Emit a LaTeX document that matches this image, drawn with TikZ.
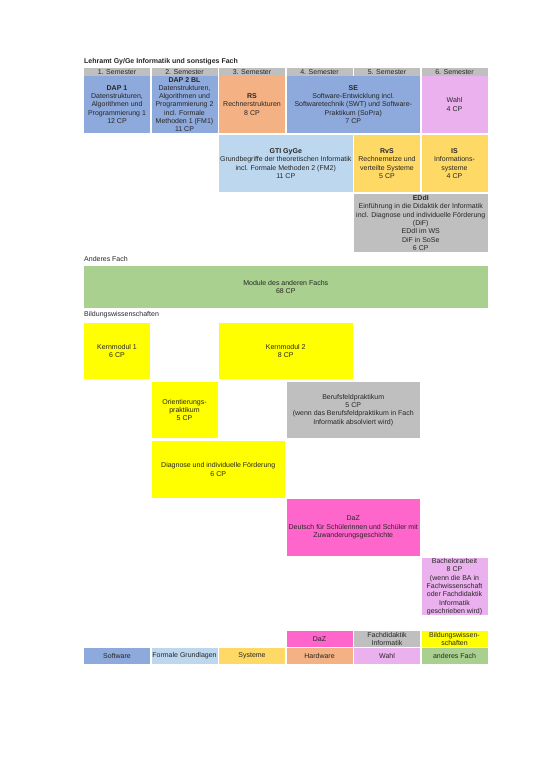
\documentclass[tikz,border=0pt]{standalone}
\usepackage{fontspec}
\setmainfont{Liberation Sans}
\usepackage{xcolor}
\definecolor{hdrgray}{HTML}{BFBFBF}
\definecolor{swblue}{HTML}{8EA9DB}
\definecolor{fgblue}{HTML}{BDD7EE}
\definecolor{sysyellow}{HTML}{FFD966}
\definecolor{hworange}{HTML}{F4B183}
\definecolor{wahllilac}{HTML}{EBB1EE}
\definecolor{fdgray}{HTML}{BFBFBF}
\definecolor{fachgreen}{HTML}{A9D08E}
\definecolor{bwyellow}{HTML}{FFFF00}
\definecolor{dazpink}{HTML}{FF66CC}
\usetikzlibrary{positioning}

\begin{document}
\begin{tikzpicture}[
            x=1pt, y=-1pt,
            cell/.style={rectangle, anchor=north west, inner sep=0.5pt, outer sep=0pt, align=center, text=black!85, font=\fontsize{7}{8.3}\selectfont},
            span/.style={minimum width=#1*67.5pt-1.5pt},
            tall/.style={minimum height=#1},
            hdr/.style={cell, fill=hdrgray, span=1, minimum height=7.5pt},
            sectitle/.style={anchor=west, inner sep=0pt, text=black!85, font=\fontsize{7}{8.3}\selectfont}
        ]
        \useasboundingbox (0,0) rectangle (541,766);

        % Informatik
        \node [sectitle, font=\bfseries\fontsize{7}{8.3}\selectfont] (title) at (84,62) {Lehramt Gy/Ge Informatik und sonstiges Fach};
        \node [hdr] (sem1) at (84,68) {1. Semester};
        \node [hdr] (sem2) at (151.5,68) {2. Semester};
        \node [hdr] (sem3) at (219,68) {3. Semester};
        \node [hdr] (sem4) at (286.5,68) {4. Semester};
        \node [hdr] (sem5) at (354,68) {5. Semester};
        \node [hdr] (sem6) at (421.5,68) {6. Semester};

        \node [cell, fill=swblue, span=1, tall=57] (dap1) at (84,76) {\textbf{DAP 1}\\Datenstrukturen,\\Algorithmen und\\Programmierung 1\\12 CP};
        \node [cell, fill=swblue, span=1, tall=57] (dap2) at (151.5,76) {\textbf{DAP 2 BL}\\Datenstrukturen,\\Algorithmen und\\Programmierung 2\\incl. Formale\\Methoden 1 (FM1)\\11 CP};
        \node [cell, fill=hworange, span=1, tall=57] (rs) at (219,76) {\textbf{RS}\\Rechnerstrukturen\\8 CP};
        \node [cell, fill=swblue, span=2, tall=57] (se) at (286.5,76) {\textbf{SE}\\Software-Entwicklung incl.\\Softwaretechnik (SWT) und Software-\\Praktikum (SoPra)\\7 CP};
        \node [cell, fill=wahllilac, span=1, tall=57] (wahl) at (421.5,76) {Wahl\\4 CP};

        \node [cell, fill=fgblue, span=2, tall=57] (gti) at (219,135) {\textbf{GTI GyGe}\\Grundbegriffe der theoretischen Informatik\\incl. Formale Methoden 2 (FM2)\\11 CP};
        \node [cell, fill=sysyellow, span=1, tall=57] (rvs) at (354,135) {\textbf{RvS}\\Rechnernetze und\\verteilte Systeme\\5 CP};
        \node [cell, fill=sysyellow, span=1, tall=57] (is) at (421.5,135) {\textbf{IS}\\Informations-\\systeme\\4 CP};

        \node [cell, fill=fdgray, span=2, tall=58] (eddi) at (354,194) {\textbf{EDdI}\\Einführung in die Didaktik der Informatik\\incl. Diagnose und individuelle Förderung\\(DiF)\\EDdI im WS\\DiF in SoSe\\6 CP};

        % anderes Fach
        \node [sectitle] (fachtitle) at (84,259) {Anderes Fach};
        \node [cell, fill=fachgreen, span=6, tall=42] (fach) at (84,266) {Module des anderen Fachs\\68 CP};

        % Bildungswissenschaften
        \node [sectitle] (bwtitle) at (84,315) {Bildungswissenschaften};
        \node [cell, fill=bwyellow, span=1, tall=56] (km1) at (84,323) {Kernmodul 1\\6 CP};
        \node [cell, fill=bwyellow, span=2, tall=56] (km2) at (219,323) {Kernmodul 2\\8 CP};
        \node [cell, fill=bwyellow, span=1, tall=56] (op) at (151.5,382) {Orientierungs-\\praktikum\\5 CP};
        \node [cell, fill=fdgray, span=2, tall=56] (bfp) at (286.5,382) {Berufsfeldpraktikum\\5 CP\\(wenn das Berufsfeldpraktikum in Fach\\Informatik absolviert wird)};
        \node [cell, fill=bwyellow, span=2, tall=57] (dif) at (151.5,441) {Diagnose und individuelle Förderung\\6 CP};
        \node [cell, fill=dazpink, span=2, tall=57] (daz) at (286.5,499) {DaZ\\Deutsch für Schülerinnen und Schüler mit\\Zuwanderungsgeschichte};
        \node [cell, fill=wahllilac, span=1, tall=57] (ba) at (421.5,558) {Bachelorarbeit\\8 CP\\(wenn die BA in\\Fachwissenschaft\\oder Fachdidaktik\\Informatik\\geschrieben wird)};

        % Legende
        \node [cell, fill=dazpink, span=1, tall=16] (lgdaz) at (286.5,631) {DaZ};
        \node [cell, fill=fdgray, span=1, tall=16] (lgfd) at (354,631) {Fachdidaktik\\Informatik};
        \node [cell, fill=bwyellow, span=1, tall=16] (lgbw) at (421.5,631) {Bildungswissen-\\schaften};
        \node [cell, fill=swblue, span=1, tall=16] (lgsw) at (84,648) {Software};
        \node [cell, fill=fgblue, span=1, tall=16] (lgfg) at (151.5,648) {Formale Grundlagen};
        \node [cell, fill=sysyellow, span=1, tall=16] (lgsys) at (219,648) {Systeme};
        \node [cell, fill=hworange, span=1, tall=16] (lghw) at (286.5,648) {Hardware};
        \node [cell, fill=wahllilac, span=1, tall=16] (lgwahl) at (354,648) {Wahl};
        \node [cell, fill=fachgreen, span=1, tall=16] (lgfach) at (421.5,648) {anderes Fach};
    \end{tikzpicture}
\end{document}
